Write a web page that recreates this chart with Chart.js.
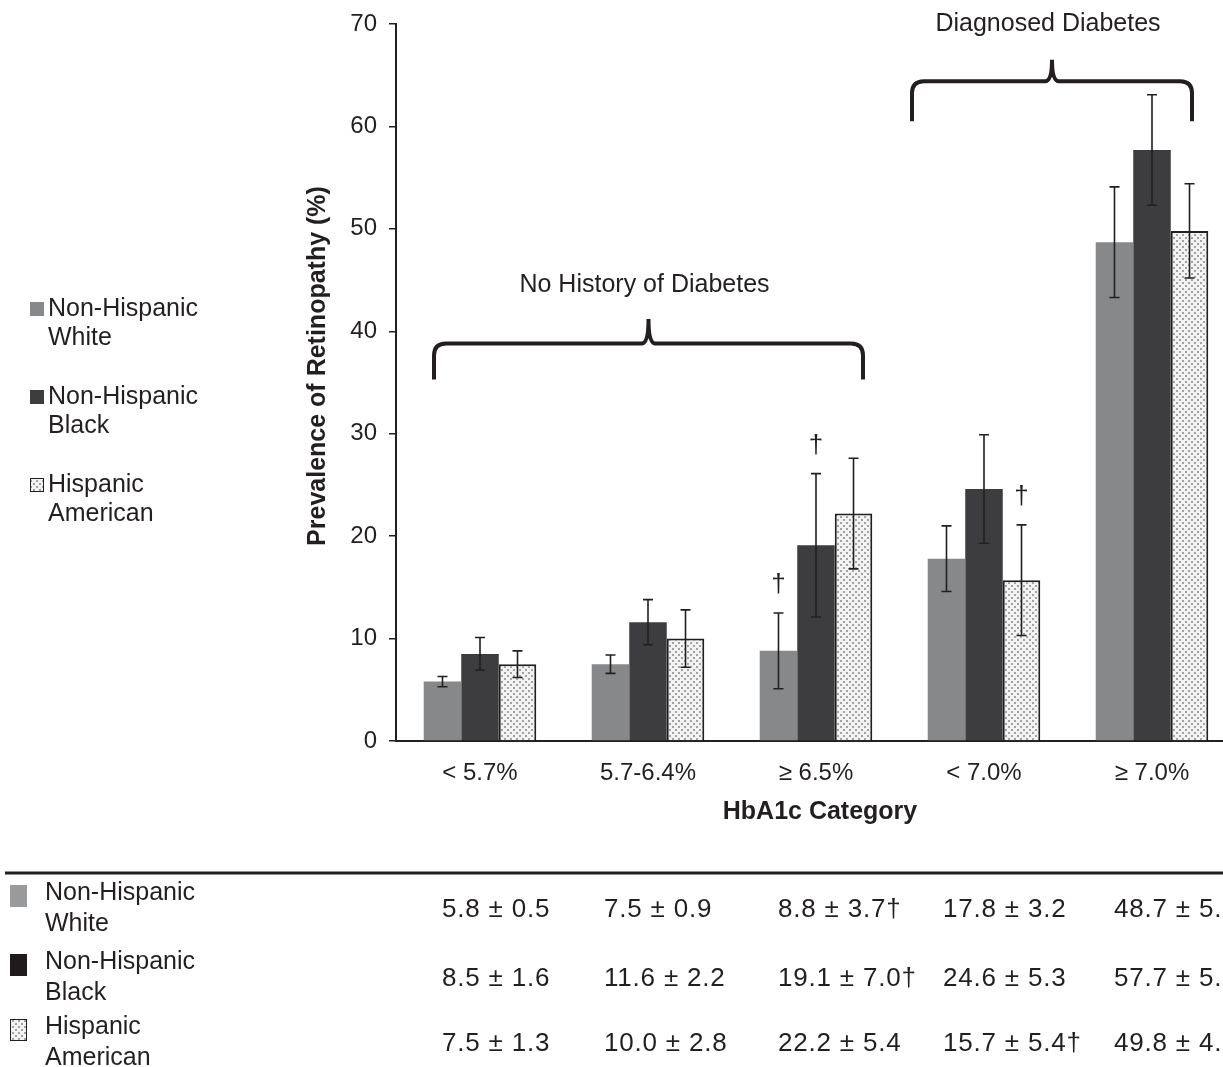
<!DOCTYPE html>
<html lang="en">
<head>
<meta charset="UTF-8">
<title>Prevalence of Retinopathy by HbA1c Category</title>
<script src="https://cdn.jsdelivr.net/npm/chart.js"></script>
<style>
  html, body { margin: 0; padding: 0; background: #fff; overflow: hidden; }
  #wrap { position: relative; width: 1236px; height: 1067px; }
</style>
</head>
<body>
<div id="wrap"><canvas id="retinopathyChart" width="1236" height="1067"></canvas></div>
<script>
// ---- data ----
var categories = ['< 5.7%', '5.7-6.4%', '\u2265 6.5%', '< 7.0%', '\u2265 7.0%'];
var seriesNames = ['Non-Hispanic White', 'Non-Hispanic Black', 'Hispanic American'];
var whiteVals = [5.8, 7.5, 8.8, 17.8, 48.7];
var blackVals = [8.5, 11.6, 19.1, 24.6, 57.7];
var hispVals = [7.5, 10.0, 22.2, 15.7, 49.8];
var whiteErr = [0.5, 0.9, 3.7, 3.2, 5.4];
var blackErr = [1.6, 2.2, 7.0, 5.3, 5.4];
var hispErr = [1.3, 2.8, 5.4, 5.4, 4.6];
var whiteDagger = [false, false, true, false, false];
var blackDagger = [false, false, true, false, false];
var hispDagger = [false, false, false, true, false];
var yTicks = [0, 10, 20, 30, 40, 50, 60, 70];
var braceLabels = ['No History of Diabetes', 'Diagnosed Diabetes'];
var braceFrom = [0, 3];
var braceTo = [2, 4];

var FONT = '"Liberation Sans", Arial, sans-serif';
var INK = '#231f20';

// dotted fill for Hispanic American
function makeDots() {
  var c = document.createElement('canvas');
  c.width = 6; c.height = 6;
  var g = c.getContext('2d');
  g.fillStyle = '#f2f2f2';
  g.fillRect(0, 0, 6, 6);
  g.fillStyle = '#a3a3a3';
  g.fillRect(0, 0, 2, 2);
  g.fillRect(3, 3, 2, 2);
  return g.createPattern(c, 'repeat');
}
var dots = makeDots();

var colors = ['#87888a', '#3d3d3f', dots];
var errs = [whiteErr, blackErr, hispErr];
var daggers = [whiteDagger, blackDagger, hispDagger];

function drawBrace(ctx, x1, x2, yb, yh, yt) {
  var cx = (x1 + x2) / 2, r = 12;
  ctx.beginPath();
  ctx.moveTo(x1, yb);
  ctx.lineTo(x1, yh + r);
  ctx.quadraticCurveTo(x1, yh, x1 + r, yh);
  ctx.lineTo(cx - 7, yh);
  ctx.quadraticCurveTo(cx, yh, cx, yt);
  ctx.quadraticCurveTo(cx, yh, cx + 7, yh);
  ctx.lineTo(x2 - r, yh);
  ctx.quadraticCurveTo(x2, yh, x2, yh + r);
  ctx.lineTo(x2, yb);
  ctx.stroke();
}

var extras = {
  id: 'extras',
  afterDatasetsDraw: function(chart) {
    var ctx = chart.ctx;
    var ys = chart.scales.y, xs = chart.scales.x;
    ctx.save();
    // error bars + daggers
    ctx.strokeStyle = INK;
    ctx.lineWidth = 1.6;
    chart.data.datasets.forEach(function(ds, di) {
      var meta = chart.getDatasetMeta(di);
      meta.data.forEach(function(bar, i) {
        var v = ds.data[i], e = errs[di][i];
        var yTop = ys.getPixelForValue(v + e), yBot = ys.getPixelForValue(v - e);
        ctx.beginPath();
        ctx.moveTo(bar.x, yTop); ctx.lineTo(bar.x, yBot);
        ctx.moveTo(bar.x - 5, yTop); ctx.lineTo(bar.x + 5, yTop);
        ctx.moveTo(bar.x - 5, yBot); ctx.lineTo(bar.x + 5, yBot);
        ctx.stroke();
        if (daggers[di][i]) {
          ctx.fillStyle = INK;
          ctx.font = '26px ' + FONT;
          ctx.textAlign = 'center';
          ctx.textBaseline = 'bottom';
          ctx.fillText('\u2020', bar.x, yTop - 15);
        }
      });
    });

    // braces
    ctx.lineWidth = 4;
    ctx.lineCap = 'butt';
    var braceX = [
      [xs.getPixelForValue(braceFrom[0]) - 46, xs.getPixelForValue(braceTo[0]) + 47],
      [xs.getPixelForValue(braceFrom[1]) - 72, xs.getPixelForValue(braceTo[1]) + 40]
    ];
    var braceY = [[35.3, 38.8, 41.2, 44.5], [60.5, 64.4, 66.5, 70]];
    ctx.fillStyle = INK;
    ctx.font = '25px ' + FONT;
    ctx.textAlign = 'center';
    ctx.textBaseline = 'middle';
    for (var b = 0; b < 2; b++) {
      var x1 = braceX[b][0], x2 = braceX[b][1];
      drawBrace(ctx, x1, x2, ys.getPixelForValue(braceY[b][0]),
        ys.getPixelForValue(braceY[b][1]), ys.getPixelForValue(braceY[b][2]));
      ctx.fillText(braceLabels[b], (x1 + x2) / 2 - 4, ys.getPixelForValue(braceY[b][3]));
    }

    // axis titles
    ctx.font = 'bold 25px ' + FONT;
    ctx.fillText('HbA1c Category', 820, 812);
    ctx.save();
    ctx.translate(318, 366);
    ctx.rotate(-Math.PI / 2);
    ctx.fillText('Prevalence of Retinopathy (%)', 0, 0);
    ctx.restore();

    // left legend
    ctx.font = '25px ' + FONT;
    ctx.textAlign = 'left';
    var legY = [309, 397, 485];
    var legLines = [['Non-Hispanic', 'White'], ['Non-Hispanic', 'Black'], ['Hispanic', 'American']];
    for (var k = 0; k < 3; k++) {
      ctx.fillStyle = colors[k];
      ctx.fillRect(30, legY[k] - 7, 14, 14);
      if (k === 2) { ctx.lineWidth = 1; ctx.strokeRect(30.5, legY[k] - 6.5, 13, 13); }
      ctx.fillStyle = INK;
      ctx.fillText(legLines[k][0], 48, legY[k]);
      ctx.fillText(legLines[k][1], 48, legY[k] + 29);
    }

    // table
    ctx.lineWidth = 3;
    ctx.strokeStyle = INK;
    ctx.beginPath();
    ctx.moveTo(5, 873); ctx.lineTo(1236, 873);
    ctx.stroke();
    var rowY = [893, 962, 1027];
    var tabColors = ['#999a9c', '#1f1b1c', dots];
    var colX = [442, 604, 778, 943, 1114];
    var vals = [whiteVals, blackVals, hispVals];
    for (var r = 0; r < 3; r++) {
      ctx.fillStyle = tabColors[r];
      ctx.fillRect(10, rowY[r] - 8, 17, 22);
      if (r === 2) { ctx.lineWidth = 1; ctx.strokeRect(10.5, rowY[r] - 7.5, 16, 21); }
      ctx.fillStyle = INK;
      ctx.font = '25px ' + FONT;
      ctx.fillText(legLines[r][0], 45, rowY[r]);
      ctx.fillText(legLines[r][1], 45, rowY[r] + 31);
    }
    // value cells; the last column is cut at the right border, as in the source
    ctx.save();
    ctx.beginPath();
    ctx.rect(0, 880, 1221, 190);
    ctx.clip();
    ctx.font = '26px ' + FONT;
    ctx.letterSpacing = '0.8px';
    ctx.fillStyle = INK;
    for (var r2 = 0; r2 < 3; r2++) {
      for (var c = 0; c < categories.length; c++) {
        var txt = vals[r2][c].toFixed(1) + ' \u00b1 ' + errs[r2][c].toFixed(1) + (daggers[r2][c] ? '\u2020' : '');
        ctx.fillText(txt, colX[c], rowY[r2] + 17);
      }
    }
    ctx.restore();
    ctx.restore();
  }
};

var ctx = document.getElementById('retinopathyChart').getContext('2d');
new Chart(ctx, {
  type: 'bar',
  data: {
    labels: categories,
    datasets: [
      { label: seriesNames[0], data: whiteVals, backgroundColor: colors[0], borderWidth: 0 },
      { label: seriesNames[1], data: blackVals, backgroundColor: colors[1], borderWidth: 0 },
      { label: seriesNames[2], data: hispVals, backgroundColor: colors[2], borderColor: INK, borderWidth: 2 }
    ]
  },
  options: {
    responsive: false,
    animation: false,
    layout: { padding: { top: 22, right: 0, bottom: 0, left: 0 } },
    plugins: { legend: { display: false }, tooltip: { enabled: false } },
    datasets: { bar: { categoryPercentage: 0.67, barPercentage: 1.0 } },
    scales: {
      x: {
        grid: { display: false },
        border: { color: INK, width: 2 },
        ticks: { color: INK, font: { family: FONT, size: 24 }, padding: 10, maxRotation: 0 },
        afterFit: function(s) { s.height = 1067 - 741; }
      },
      y: {
        min: 0, max: 70,
        afterBuildTicks: function(s) { s.ticks = yTicks.map(function(v) { return { value: v }; }); },
        grid: { drawOnChartArea: false, color: INK, tickLength: 7, lineWidth: 1.5 },
        border: { color: INK, width: 2 },
        ticks: { color: INK, font: { family: FONT, size: 24, lineHeight: 1 }, padding: 12 },
        afterFit: function(s) { s.width = 396; }
      }
    }
  },
  plugins: [extras]
});
</script>
</body>
</html>
